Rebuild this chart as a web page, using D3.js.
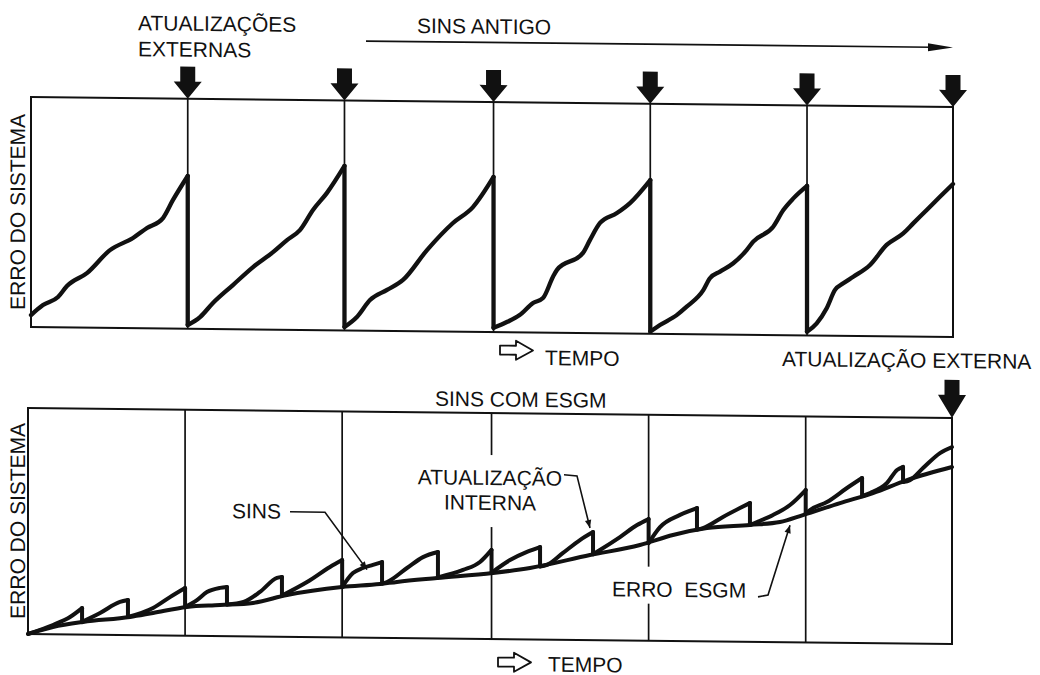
<!DOCTYPE html>
<html>
<head>
<meta charset="utf-8">
<script src="https://cdn.jsdelivr.net/npm/d3@7"></script>
<style>
    html, body { margin: 0; padding: 0; background: #fff; }
    svg { display: block; }
    text { font-family: "Liberation Sans", Arial, sans-serif; font-size: 21px; fill: #111; }
</style>
</head>
<body>
<div id="chartContainer"><svg width="1040" height="675"></svg></div>
<script>
// 時間軸：外部更新時刻（單位 = 一個更新週期）
const updateTimes = [1.02, 2.04, 3.01, 4.03, 5.05, 6];

// SINS ANTIGO：每段 [t, erro]
const sinsAntigo = [
    [[0, 5.2], [0.078, 9.6], [0.176, 13.2], [0.234, 18.0], [0.364, 23.7], [0.514, 33.8], [0.664, 39.2], [0.755, 43.6], [0.859, 48.0], [0.924, 55.9], [1.02, 66.4]],
    [[1.02, 1.6], [1.10, 5.1], [1.184, 11.3], [1.314, 19.2], [1.445, 27.1], [1.575, 33.7], [1.666, 39.0], [1.75, 43.4], [1.835, 52.2], [1.926, 59.7], [2.04, 71.5]],
    [[2.04, 1.5], [2.121, 5.9], [2.206, 13.3], [2.317, 17.8], [2.421, 22.2], [2.577, 35.3], [2.746, 47.2], [2.876, 54.2], [3.01, 67.4]],
    [[3.01, 1.8], [3.10, 4.5], [3.18, 7.5], [3.267, 12.8], [3.332, 15.0], [3.397, 24.3], [3.423, 27.3], [3.592, 34.8], [3.638, 40.5], [3.703, 47.9], [3.813, 52.3], [3.898, 56.7], [4.03, 66.8]],
    [[4.03, 0.9], [4.093, 3.8], [4.202, 8.2], [4.267, 11.9], [4.375, 19.2], [4.418, 24.4], [4.484, 27.3], [4.57, 31.0], [4.657, 36.8], [4.70, 40.5], [4.83, 47.1], [4.896, 54.4], [4.961, 59.5], [5.05, 65.0]],
    [[5.05, 1.6], [5.113, 5.3], [5.178, 11.9], [5.232, 19.9], [5.286, 22.8], [5.351, 25.7], [5.46, 30.9], [5.568, 39.7], [5.676, 44.8], [5.741, 49.2], [5.829, 55.1], [5.915, 60.9], [6, 66.5]]
];

// SINS COM ESGM：ESGM 誤差曲線
const erroEsgm = [
    [0, 0], [0.162, 3.2], [0.357, 5.6], [0.662, 8.0], [0.812, 9.9], [1.032, 12.7], [1.247, 13.7], [1.461, 14.8],
    [1.682, 18.5], [2.039, 22.3], [2.286, 23.8], [2.396, 24.8], [2.656, 26.7], [3.019, 29.2], [3.26, 31.6],
    [3.649, 37.6], [3.974, 42.3], [4.188, 46.9], [4.409, 50.1], [4.688, 51.7], [4.883, 53.1], [5.032, 56.3],
    [5.273, 61.8], [5.487, 66.4], [5.708, 72.3], [6, 78.3]
];

// SINS 鋸齒（每次內部更新後重設到 ESGM）
const sinsComEsgm = [
    [[0, 0], [0.162, 4.1], [0.273, 7.7], [0.351, 11.7]],
    [[0.351, 5.6], [0.468, 9.6], [0.597, 14.6], [0.649, 15.5]],
    [[0.649, 8.0], [0.812, 12.1], [0.922, 17.0], [1.02, 21.1]],
    [[1.02, 12.7], [1.097, 15.8], [1.162, 19.4], [1.247, 21.3], [1.292, 21.7]],
    [[1.292, 14.0], [1.40, 15.2], [1.506, 19.7], [1.617, 26.0], [1.649, 26.4]],
    [[1.649, 18.2], [1.812, 24.3], [1.961, 31.1], [2.04, 34.2]],
    [[2.04, 22.3], [2.11, 28.5], [2.175, 30.8], [2.24, 32.2], [2.299, 33.5]],
    [[2.299, 24.0], [2.331, 24.7], [2.461, 31.0], [2.565, 35.9], [2.662, 38.2]],
    [[2.662, 27.0], [2.825, 30.4], [2.935, 34.0], [3.01, 39.4]],
    [[3.01, 29.3], [3.13, 35.0], [3.24, 38.7], [3.325, 40.9]],
    [[3.325, 32.3], [3.37, 33.0], [3.474, 38.4], [3.584, 44.2], [3.669, 47.8]],
    [[3.669, 38.0], [3.714, 39.9], [3.844, 45.7], [3.955, 51.1], [4.03, 53.8]],
    [[4.03, 43.2], [4.104, 50.3], [4.234, 55.8], [4.344, 58.9]],
    [[4.344, 49.4], [4.383, 50.1], [4.513, 55.1], [4.623, 59.1], [4.688, 61.4]],
    [[4.688, 51.7], [4.734, 53.0], [4.838, 56.2], [4.948, 60.7], [5.05, 67.4]],
    [[5.05, 57.0], [5.078, 58.6], [5.188, 62.2], [5.318, 68.5], [5.416, 73.0]],
    [[5.416, 65.0], [5.468, 66.4], [5.578, 70.9], [5.643, 76.7], [5.682, 78.1]],
    [[5.682, 71.4], [5.727, 72.3], [5.812, 77.7], [5.922, 84.4], [6, 87.1]]
];

const ink = "#111";
const skew = 0.0108; // 掃描原圖的傾斜

drawFigure();

function drawFigure() {
    const svg = d3.select("#chartContainer svg");
    svg.selectAll("*").remove();

    const defs = svg.append("defs");
    defs.append("marker")
        .attr("id", "tip")
        .attr("viewBox", "0 0 10 10")
        .attr("refX", 10)
        .attr("refY", 5)
        .attr("markerWidth", 11)
        .attr("markerHeight", 8)
        .attr("markerUnits", "userSpaceOnUse")
        .attr("orient", "auto")
        .append("path")
        .attr("d", "M0,1 L10,5 L0,9 Z")
        .attr("fill", ink);

    const g = svg.append("g")
        .attr("transform", `translate(0,${-skew * 31}) skewY(${Math.atan(skew) * 180 / Math.PI})`);

    drawTopPanel(g);
    drawBottomPanel(g);
}

// 上圖：SINS ANTIGO
function drawTopPanel(g) {
    const x = d3.scaleLinear().domain([0, 6]).range([31, 953]);
    const y = d3.scaleLinear().domain([0, 100]).range([327, 97]);

    g.append("rect")
        .attr("x", x(0)).attr("y", y(100))
        .attr("width", x(6) - x(0)).attr("height", y(0) - y(100))
        .attr("fill", "none").attr("stroke", ink).attr("stroke-width", 2);

    g.selectAll(".vtop")
        .data(updateTimes)
        .enter()
        .append("line")
        .attr("class", "vtop")
        .attr("x1", d => x(d)).attr("x2", d => x(d))
        .attr("y1", y(100)).attr("y2", y(0))
        .attr("stroke", ink).attr("stroke-width", 1.7);

    // 外部更新箭頭
    g.selectAll(".arrowTop")
        .data(updateTimes)
        .enter()
        .append("path")
        .attr("class", "arrowTop")
        .attr("transform", d => `translate(${x(d)},${y(100)})`)
        .attr("d", "M-7.5,-32 H7.5 V-17 H14 L0,0 L-14,-17 H-7.5 Z")
        .attr("fill", ink);

    const line = d3.line()
        .x(d => x(d[0]))
        .y(d => y(d[1]))
        .curve(d3.curveMonotoneX);

    g.selectAll(".segTop")
        .data(sinsAntigo)
        .enter()
        .append("path")
        .attr("class", "segTop")
        .attr("d", line)
        .attr("fill", "none").attr("stroke", ink)
        .attr("stroke-width", 4.3).attr("stroke-linejoin", "round").attr("stroke-linecap", "round");

    const drops = sinsAntigo.slice(1).map((s, i) => [sinsAntigo[i][sinsAntigo[i].length - 1], s[0]]);
    g.selectAll(".dropTop")
        .data(drops)
        .enter()
        .append("path")
        .attr("class", "dropTop")
        .attr("d", d3.line().x(d => x(d[0])).y(d => y(d[1])))
        .attr("stroke", ink).attr("stroke-width", 4.3).attr("stroke-linecap", "round");

    // 標籤
    g.append("text").attr("x", 138).attr("y", 29).text("ATUALIZAÇÕES");
    g.append("text").attr("x", 138).attr("y", 55).text("EXTERNAS");
    g.append("text").attr("x", 417).attr("y", 28.8).text("SINS ANTIGO");

    g.append("line")
        .attr("x1", 366).attr("x2", 932)
        .attr("y1", 37.5).attr("y2", 37.5)
        .attr("stroke", ink).attr("stroke-width", 1.7);
    g.append("path")
        .attr("d", "M928,33.5 L953,37.5 L928,41.5 Z")
        .attr("fill", ink);

    g.append("text")
        .attr("transform", `translate(25,${(y(0) + y(100)) / 2}) rotate(-90)`)
        .attr("text-anchor", "middle")
        .text("ERRO DO SISTEMA");

    drawTimeLabel(g, 500, 345, 545, 359.5);
    g.append("text").attr("x", 782).attr("y", 358).text("ATUALIZAÇÃO EXTERNA");
}

// 下圖：SINS COM ESGM
function drawBottomPanel(g) {
    const x = d3.scaleLinear().domain([0, 6]).range([28, 952]);
    const y = d3.scaleLinear().domain([0, 100]).range([634, 408]);

    g.append("rect")
        .attr("x", x(0)).attr("y", y(100))
        .attr("width", x(6) - x(0)).attr("height", y(0) - y(100))
        .attr("fill", "none").attr("stroke", ink).attr("stroke-width", 2);

    g.selectAll(".vbot")
        .data(updateTimes.slice(0, -1))
        .enter()
        .append("line")
        .attr("class", "vbot")
        .attr("x1", d => x(d)).attr("x2", d => x(d))
        .attr("y1", y(100)).attr("y2", y(0))
        .attr("stroke", ink).attr("stroke-width", 1.7);

    // 文字背後留白（原圖垂直線在文字處斷開）
    g.append("rect").attr("x", 415).attr("y", 450).attr("width", 150).attr("height", 72).attr("fill", "#fff");
    g.append("rect").attr("x", 608).attr("y", 560).attr("width", 146).attr("height", 37).attr("fill", "#fff");

    g.append("path")
        .attr("transform", `translate(${x(6)},${y(100)})`)
        .attr("d", "M-7.5,-38 H7.5 V-23 H14 L0,0 L-14,-23 H-7.5 Z")
        .attr("fill", ink);

    const line = d3.line()
        .x(d => x(d[0]))
        .y(d => y(d[1]))
        .curve(d3.curveMonotoneX);

    g.append("path")
        .datum(erroEsgm)
        .attr("d", line)
        .attr("fill", "none").attr("stroke", ink)
        .attr("stroke-width", 4).attr("stroke-linejoin", "round").attr("stroke-linecap", "round");

    g.selectAll(".tooth")
        .data(sinsComEsgm)
        .enter()
        .append("path")
        .attr("class", "tooth")
        .attr("d", line)
        .attr("fill", "none").attr("stroke", ink)
        .attr("stroke-width", 4).attr("stroke-linejoin", "round").attr("stroke-linecap", "round");

    const drops = sinsComEsgm.slice(1).map((s, i) => [sinsComEsgm[i][sinsComEsgm[i].length - 1], s[0]]);
    g.selectAll(".dropBot")
        .data(drops)
        .enter()
        .append("path")
        .attr("class", "dropBot")
        .attr("d", d3.line().x(d => x(d[0])).y(d => y(d[1])))
        .attr("stroke", ink).attr("stroke-width", 4).attr("stroke-linecap", "round");

    // 標籤與引線
    g.append("text").attr("x", 435).attr("y", 401.5).text("SINS COM ESGM");
    g.append("text").attr("x", 232).attr("y", 516).text("SINS");
    g.append("text").attr("x", 490).attr("y", 480).attr("text-anchor", "middle").text("ATUALIZAÇÃO");
    g.append("text").attr("x", 490).attr("y", 505).attr("text-anchor", "middle").text("INTERNA");
    g.append("text").attr("x", 612).attr("y", 590).attr("xml:space", "preserve").text("ERRO  ESGM");

    const leaders = [
        [[290, 509], [325, 509], [367, 566]],
        [[564, 469], [577, 470], [590, 522]],
        [[758, 589], [768, 587], [790, 517]]
    ];
    g.selectAll(".leader")
        .data(leaders)
        .enter()
        .append("path")
        .attr("class", "leader")
        .attr("d", d3.line())
        .attr("fill", "none").attr("stroke", ink).attr("stroke-width", 1.6)
        .attr("marker-end", "url(#tip)");

    g.append("text")
        .attr("transform", `translate(25,${(y(0) + y(100)) / 2}) rotate(-90)`)
        .attr("text-anchor", "middle")
        .text("ERRO DO SISTEMA");

    drawTimeLabel(g, 498, 657, 548, 666);
}

// 空心箭頭 + TEMPO
function drawTimeLabel(g, ax, ay, tx, ty) {
    g.append("path")
        .attr("transform", `translate(${ax},${ay})`)
        .attr("d", "M0,-4.5 H16 V-9.5 L33,0 L16,9.5 V4.5 H0 Z")
        .attr("fill", "#fff").attr("stroke", ink).attr("stroke-width", 1.8).attr("stroke-linejoin", "round");
    g.append("text").attr("x", tx).attr("y", ty).text("TEMPO");
}
</script>
</body>
</html>
